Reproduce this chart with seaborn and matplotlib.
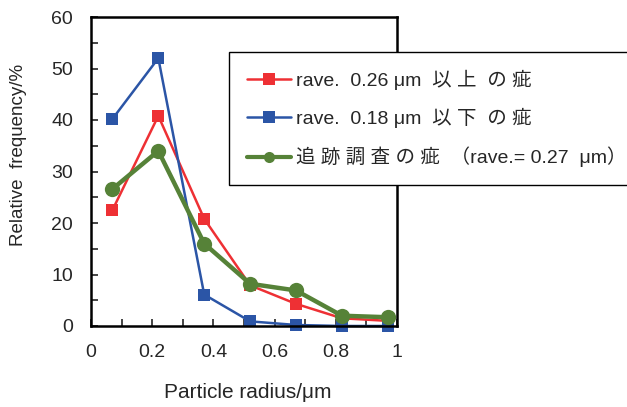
import matplotlib
matplotlib.use("Agg")
import matplotlib.pyplot as plt
import seaborn as sns
import pandas as pd
from matplotlib.ticker import MultipleLocator

radius = [0.07, 0.22, 0.37, 0.52, 0.67, 0.82, 0.97]
red_vals = [22.5, 40.8, 20.8, 7.9, 4.3, 1.5, 1.0]
blue_vals = [40.2, 52.0, 6.1, 0.9, 0.2, 0.0, 0.0]
green_vals = [26.6, 34.0, 16.0, 8.2, 6.9, 2.0, 1.7]
labels = ["rave.  0.26 μm  以 上  の 疵",
          "rave.  0.18 μm  以 下  の 疵",
          "追 跡 調 査 の 疵  （rave.= 0.27  μm）"]
colors = ["#EE3034", "#2B55A6", "#568238"]

sns.set_style("ticks")
plt.rcParams["font.family"] = ["Liberation Sans", "Noto Sans CJK JP"]

fig = plt.figure(figsize=(6.27, 4.07), dpi=100)
ax = fig.add_axes([91/627, 1-326/407, (397-91)/627, (326-17)/407])

df = pd.DataFrame({"r": radius * 3,
                   "v": red_vals + blue_vals + green_vals,
                   "s": [labels[0]]*7 + [labels[1]]*7 + [labels[2]]*7})

styles = [dict(marker="s", markersize=9, linewidth=1.8),
          dict(marker="s", markersize=9, linewidth=1.8),
          dict(marker="o", markersize=11, linewidth=3.2)]
for lab, col, st in zip(labels, colors, styles):
    sub = df[df.s == lab]
    sns.lineplot(data=sub, x="r", y="v", ax=ax, color=col, label=lab,
                 markeredgewidth=0, markeredgecolor=col, clip_on=False, **st)

ax.set_xlim(0, 1)
ax.set_ylim(0, 60)
ax.xaxis.set_minor_locator(MultipleLocator(0.1))
ax.yaxis.set_major_locator(MultipleLocator(10))
ax.yaxis.set_minor_locator(MultipleLocator(5))
ax.set_xticks([0, 0.2, 0.4, 0.6, 0.8, 1.0])
ax.set_xticklabels(["0", "0.2", "0.4", "0.6", "0.8", "1"])
ax.tick_params(which="both", direction="in", length=5, width=1.2, labelsize=14,
               top=False, right=False)
ax.tick_params(axis="x", pad=13)
ax.tick_params(axis="y", pad=13)
for sp in ax.spines.values():
    sp.set_visible(True)
    sp.set_linewidth(1.8)
    sp.set_color("black")

ax.set_xlabel("Particle radius/μm", fontsize=15, labelpad=16, x=0.513)
ax.set_ylabel("Relative  frequency/%", fontsize=13.5, labelpad=17, y=0.553)

leg = ax.legend(loc="upper left", bbox_to_anchor=(229/627, 1-52/407),
                bbox_transform=fig.transFigure, borderaxespad=0,
                fontsize=14, frameon=True, fancybox=False, framealpha=1,
                edgecolor="black", handlelength=2.3, handletextpad=0.25,
                labelspacing=0.95, borderpad=0.9)
leg.get_frame().set_linewidth(1.0)
leg.set_zorder(10)
handles = leg.legend_handles
handles[2].set_markersize(8)
handles[2].set_linewidth(3.0)

fig.savefig("out.png", dpi=100)
